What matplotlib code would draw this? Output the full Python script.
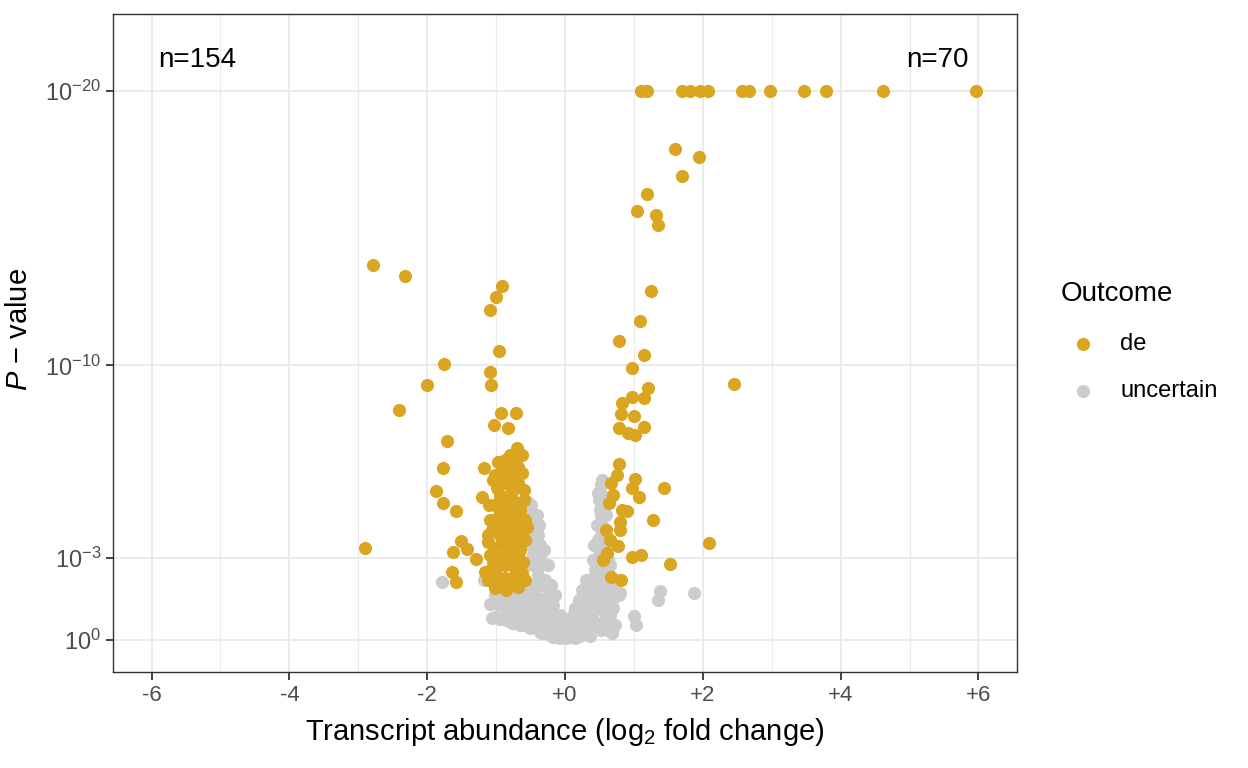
import numpy as np
import matplotlib.pyplot as plt
from matplotlib.ticker import FixedLocator

plt.rcParams["font.family"] = ["Liberation Sans", "DejaVu Sans"]
plt.rcParams["mathtext.fontset"] = "custom"
plt.rcParams["mathtext.rm"] = "Liberation Sans"
plt.rcParams["mathtext.it"] = "Liberation Sans:italic"

# differentially expressed genes: log2 fold change, -log10(P)
de_fc = [
    # capped at 1e-20
    1.10, 1.19, 1.70, 1.81, 1.96, 2.08, 2.57, 2.67, 2.98, 3.47, 3.79, 4.62, 5.97,
    # up, strong
    1.60, 1.94, 1.70, 1.19, 1.04, 1.32, 1.35, 1.25,
    # up
    1.09, 0.78, 1.15, 0.97, 2.45, 1.20, 0.97, 1.15, 0.83, 0.81, 1.00, 0.78, 1.15,
    0.91, 1.02, 0.78, 0.75, 1.02, 0.67, 1.44, 0.97, 1.07, 0.70, 0.64, 0.83, 0.90,
    1.28, 0.80, 0.80, 0.60, 0.65, 0.77, 2.09, 0.97, 1.10, 1.52, 0.61, 0.67, 0.81,
    0.55,
    # down, outliers
    -2.79, -2.32, -0.91, -1.00, -1.09, -0.96, -1.76, -1.09, -1.07, -2.00, -2.41,
    -0.93, -0.71, -1.03, -0.83, -1.71, -0.70, -1.77, -1.18, -1.87, -1.77, -1.58,
    -1.20, -2.90, -1.51, -1.63, -1.42, -1.29, -1.64, -1.58, -1.16, -1.07,
    # down, dense cluster
    -0.80, -0.62, -0.97, -0.68, -0.84, -0.62, -0.99, -0.77, -0.68, -0.90, -0.68,
    -0.97, -0.73, -0.58, -1.06, -0.83, -0.62, -1.12, -0.91, -0.73, -0.97, -0.77,
    -0.61, -0.87, -0.68, -0.62, -1.02, -0.87, -0.75, -0.94, -0.80, -0.65, -1.02,
    -1.09, -0.87, -0.94, -0.73, -1.02, -0.83, -0.65, -1.09, -0.87, -0.73, -1.02,
    -0.80, -0.94, -0.58, -0.58, -0.55, -1.04, -1.12, -0.78, -0.60, -0.90,
    -1.05, -0.72, -0.91, -1.11, -0.79, -0.60, -0.98, -0.76, -1.12, -0.86, -0.65,
    -1.05, -0.86, -1.01, -0.72, -0.94, -0.82,
    -0.72, -0.95, -0.85, -0.70, -1.00, -0.65,
]
de_logp = [
    20, 20, 20, 20, 20, 20, 20, 20, 20, 20, 20, 20, 20,
    17.89, 17.60, 16.90, 16.25, 15.63, 15.48, 15.12, 12.71,
    11.62, 10.89, 10.38, 9.91, 9.33, 9.18, 8.85, 8.82, 8.63, 8.23, 8.16, 7.72, 7.76,
    7.54, 7.47, 6.41, 6.01, 5.87, 5.72, 5.54, 5.54, 5.21, 5.28, 4.99, 4.74, 4.70,
    4.37, 4.30, 4.01, 4.01, 3.64, 3.42, 3.53, 3.02, 3.10, 2.77, 3.17, 2.30, 2.19,
    2.91,
    13.66, 13.26, 12.90, 12.50, 12.02, 10.53, 10.05, 9.76, 9.29, 9.29, 8.38,
    8.27, 8.27, 7.83, 7.72, 7.25, 6.99, 6.27, 6.27, 5.43, 4.99, 4.70,
    5.21, 3.35, 3.61, 3.21, 3.32, 2.95, 2.48, 2.11, 2.48, 2.55,
    6.74, 6.74, 6.48, 6.30, 6.08, 6.08, 5.54, 5.46, 5.72, 4.99, 4.99,
    4.48, 4.48, 4.37, 4.01, 4.01, 3.90, 3.57, 3.57, 3.46, 2.99, 2.99,
    2.84, 2.26, 1.93, 2.44, 6.01, 6.56, 5.90, 5.28, 4.74, 4.74, 4.92,
    4.37, 4.37, 3.83, 3.83, 3.35, 3.35, 3.28, 3.10, 2.73, 2.62, 2.37,
    2.19, 2.00, 2.19, 3.64, 4.12, 2.73, 2.19, 5.10, 5.46, 5.72,
    5.83, 6.48, 6.19, 4.92, 5.28, 5.10, 4.19, 4.19, 3.83, 3.64, 2.91,
    2.91, 1.82, 1.89, 2.37, 5.10, 6.27,
    5.55, 4.55, 3.10, 3.05, 2.60, 4.00,
]

# uncertain genes
unc_fc = [
    # down arm
    -1.09, -1.06, -0.91, -0.83, -0.77, -0.58, -0.54, -0.46, -0.39, -0.29, -0.15,
    0.00, -0.33, -0.54, -0.44, -0.54, -0.39, -0.65, -0.51, -0.73, -0.58, -0.44,
    -0.22, -0.51, -0.94, -0.65, -0.36, -0.29, -0.22, -0.10, -0.07, -0.25, -0.65,
    -0.87, -0.57, -0.48, -0.42, -0.55, -0.73, -1.79, -1.18, -0.15, -0.07, -0.75,
    -0.50, -0.50, -0.41, -0.53, -0.38, -0.50, -0.36, -0.43, -0.31, -0.47, -0.36,
    -0.25, -0.50, -0.36, -0.21, -1.01, -0.79, -0.57, -0.43, -0.24, -0.14, -0.96,
    -0.72, -0.50, -0.36, -0.17, -0.86, -0.67, -0.28, -0.07, -1.01, -0.50, -0.36,
    -0.18, -0.86, -0.38, -0.28, -0.04, -0.36, -0.18, 0.05,
    # up arm
    0.02, 0.10, 0.19, 0.29, 0.36, 0.44, 0.51, 0.55, 0.48, 0.46, 0.51, 0.54, 0.54,
    0.48, 0.58, 0.62, 0.65, 0.73, 0.80, 0.68, 0.58, 0.48, 0.36, 0.22, 0.68, 0.73,
    0.51, 0.39, 0.29, 0.15, 0.62, 0.45, 0.57, 0.42, 0.36, 0.26, 0.33, 0.60,
    1.00, 1.03, 1.38, 1.35, 1.87, 0.78,
    0.52, 0.49, 0.57, 0.52, 0.60, 0.54, 0.52, 0.60, 0.49, 0.57, 0.40, 0.52, 0.62,
    0.44, 0.63, 0.30, 0.49, 0.66, 0.25, 0.40, 0.54, 0.72, 0.20, 0.44, 0.60, 0.15,
    0.37, 0.52, 0.69, 0.11, 0.25, 0.66, 0.05, 0.20, 0.44, 0.56, 0.08, 0.22, 0.52,
    0.63, 0.11, 0.37,
]
unc_logp = [
    1.31, 0.80, 1.75, 1.02, 0.62, 1.02, 3.57, 3.10, 2.37, 1.53, 0.80,
    0.29, 0.26, 5.03, 4.30, 3.93, 3.83, 1.46, 1.82, 1.53, 0.55, 0.91,
    0.36, 0.45, 0.76, 2.19, 2.91, 2.19, 1.09, 0.44, 0.07, 0.20, 0.55,
    1.46, 2.73, 4.37, 3.46, 4.66, 2.00, 2.11, 2.19, 0.18, 0.55, 0.62,
    4.92, 4.55, 4.55, 4.19, 4.19, 3.46, 3.46, 3.28, 3.28, 2.73, 2.73,
    2.73, 2.00, 2.00, 2.00, 1.64, 1.64, 1.64, 1.64, 1.64, 1.64, 1.28,
    1.28, 1.28, 1.28, 1.28, 0.91, 0.91, 0.91, 0.91, 0.85, 0.66, 0.66,
    0.66, 0.72, 0.36, 0.36, 0.36, 0.30, 0.11, 0.11,
    0.07, 0.29, 0.73, 1.09, 1.53, 2.00, 2.55, 3.10, 3.64, 4.19, 4.74, 5.28, 5.83,
    5.36, 4.01, 3.46, 2.73, 2.19, 1.71, 1.46, 1.02, 0.55, 0.36, 0.15, 0.26, 0.55,
    1.46, 0.91, 0.55, 0.07, 1.82, 2.91, 2.37, 3.46, 2.19, 1.64, 1.35, 0.73,
    0.87, 0.55, 1.79, 1.46, 1.71, 1.64,
    5.65, 5.10, 5.10, 4.55, 4.55, 4.19, 3.83, 3.83, 3.28, 3.28, 2.91, 2.91, 2.91,
    2.55, 2.55, 2.19, 2.19, 2.19, 1.82, 1.82, 1.82, 1.82, 1.46, 1.46, 1.46, 1.17,
    1.17, 1.17, 1.17, 0.91, 0.91, 0.91, 0.66, 0.66, 0.66, 0.66, 0.36, 0.36, 0.36,
    0.36, 0.15, 0.15,
]

n_down = 154
n_up = 70

x_ticks = [-6, -4, -2, 0, 2, 4, 6]
x_labels = ["-6", "-4", "-2", "+0", "+2", "+4", "+6"]
y_ticks = [0, 3, 10, 20]
y_labels = [r"$10^{0}$", r"$10^{-3}$", r"$10^{-10}$", r"$10^{-20}$"]

gold = "#DAA520"
grey = "#CCCCCC"
dark = "#333333"

fig = plt.figure(figsize=(12.48, 7.68), dpi=100)
ax = fig.add_axes([113 / 1248, 1 - 672 / 768, 904 / 1248, 658 / 768])

ax.scatter(unc_fc, unc_logp, s=90, color=grey, linewidths=0, label="uncertain", zorder=3)
ax.scatter(de_fc, de_logp, s=90, color=gold, linewidths=0, label="de", zorder=4)

ax.set_xlim(-6.56, 6.56)
ax.set_ylim(-1.17, 22.8)

ax.set_xticks(x_ticks)
ax.set_xticklabels(x_labels)
ax.xaxis.set_minor_locator(FixedLocator([-5, -3, -1, 1, 3, 5]))
ax.set_yticks(y_ticks)
ax.set_yticklabels(y_labels)

ax.grid(which="major", color="#EBEBEB", linewidth=1.5, zorder=0)
ax.grid(which="minor", axis="x", color="#EBEBEB", linewidth=0.8, zorder=0)
ax.set_axisbelow(True)

for sp in ax.spines.values():
    sp.set_color(dark)
    sp.set_linewidth(1.0)

ax.tick_params(which="major", direction="out", length=5.4, width=1.3, color=dark,
               labelcolor="#4D4D4D")
ax.tick_params(axis="x", labelsize=16, pad=4)
ax.tick_params(axis="y", labelsize=17, pad=3)
ax.tick_params(which="minor", length=0)

ax.set_xlabel(r"Transcript abundance (log$_2$ fold change)", fontsize=21, labelpad=7)
ax.set_ylabel(r"$\mathit{P}$ − value", fontsize=21)
ax.yaxis.set_label_coords(-0.089, 0.52)

ax.text(-5.33, 21.13, f"n={n_down}", fontsize=20, ha="center", va="center")
ax.text(5.41, 21.13, f"n={n_up}", fontsize=20, ha="center", va="center")

handles, labels = ax.get_legend_handles_labels()
leg = fig.legend(handles[::-1], labels[::-1], title="Outcome", loc="upper left",
                 bbox_to_anchor=(1061 / 1248, 1 - 281 / 768), frameon=False,
                 fontsize=17, title_fontsize=20, borderpad=0, borderaxespad=0,
                 handlelength=1.9, handletextpad=0.6, labelspacing=1.05,
                 markerscale=1.0, alignment="left")
leg._legend_box.sep = 19

fig.savefig("out.png", dpi=100)
